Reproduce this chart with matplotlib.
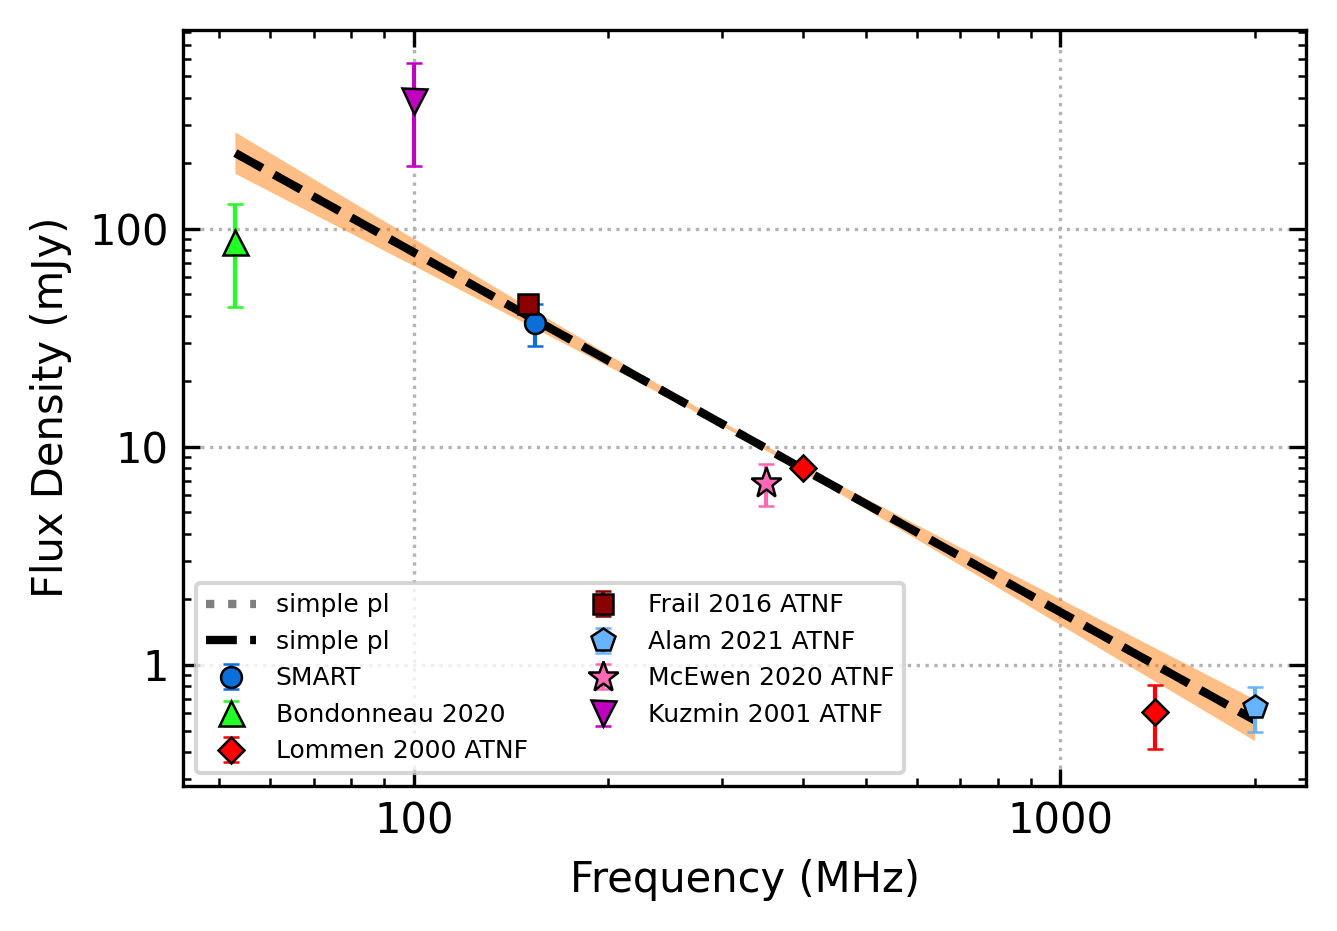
import numpy as np
import matplotlib
matplotlib.use("Agg")
import matplotlib.pyplot as plt
from matplotlib.ticker import ScalarFormatter, NullFormatter

# measured flux densities (MHz, mJy, mJy)
smart_freq = [154]
smart_flux = [37.0]
smart_err = [8.0]

bond_freq = [53]
bond_flux = [87.0]
bond_err = [43.0]

lommen_freq = [400, 1400]
lommen_flux = [8.0, 0.61]
lommen_err = [0.4, 0.2]

frail_freq = [150]
frail_flux = [45.0]
frail_err = [2.5]

alam_freq = [2000]
alam_flux = [0.64]
alam_err = [0.15]

mcewen_freq = [350]
mcewen_flux = [6.85]
mcewen_err = [1.5]

kuzmin_freq = [100]
kuzmin_flux = [385.0]
kuzmin_err = [190.0]

# simple power law fit parameters
fit_c = 11.1       # mJy at fit_v0
fit_v0 = 326.0     # MHz
fit_a = -1.65
fit_a_err = 0.12
fit_c_err = 0.25

datasets = [
    ("SMART", smart_freq, smart_flux, smart_err, "o", "#0a6fd8", 5),
    ("Bondonneau 2020", bond_freq, bond_flux, bond_err, "^", "#22ff22", 6),
    ("Lommen 2000 ATNF", lommen_freq, lommen_flux, lommen_err, "D", "red", 4.5),
    ("Frail 2016 ATNF", frail_freq, frail_flux, frail_err, "s", "darkred", 5),
    ("Alam 2021 ATNF", alam_freq, alam_flux, alam_err, "p", "#66b3ff", 6),
    ("McEwen 2020 ATNF", mcewen_freq, mcewen_flux, mcewen_err, "*", "hotpink", 7.5),
    ("Kuzmin 2001 ATNF", kuzmin_freq, kuzmin_flux, kuzmin_err, "v", "m", 6),
]

fig = plt.figure(figsize=(1337 / 300, 931 / 300), dpi=300)
ax = fig.add_axes([0.137, 0.156, 0.840, 0.812])

all_freq = sum([d[1] for d in datasets], [])
fit_x = np.logspace(np.log10(min(all_freq)), np.log10(max(all_freq)), 200)
fit_y = fit_c * (fit_x / fit_v0) ** fit_a
rel = np.sqrt((fit_c_err / fit_c) ** 2 + (fit_a_err * np.log(fit_x / fit_v0)) ** 2)
ax.fill_between(fit_x, fit_y * np.exp(-rel), fit_y * np.exp(rel),
                facecolor="C1", alpha=0.5, lw=0, zorder=1)
h1, = ax.plot(fit_x, fit_y, ":", color="k", alpha=0.5, lw=2, label="simple pl", zorder=2)
h2, = ax.plot(fit_x, fit_y, "--", color="k", lw=2, label="simple pl", zorder=3)

handles = [h1, h2]
for label, f, s, e, m, c, ms in datasets:
    eb = ax.errorbar(f, s, yerr=e, fmt=m, color=c, ecolor=c, mec="k", mew=0.6,
                     ms=ms, elinewidth=1, capsize=2, capthick=1, label=label, zorder=4)
    handles.append(eb)

ax.set_xscale("log")
ax.set_yscale("log")
ax.set_xlim(44, 2400)
ax.set_ylim(0.279, 818)

for axis in (ax.xaxis, ax.yaxis):
    fmt = ScalarFormatter()
    fmt.set_scientific(False)
    axis.set_major_formatter(fmt)
    axis.set_minor_formatter(NullFormatter())

ax.tick_params(which="both", direction="in", top=True, right=True, labelsize=10)
ax.tick_params(which="major", length=4, width=0.8)
ax.tick_params(which="minor", length=2, width=0.6)
ax.grid(True, which="major", linestyle=":", color="0.7", lw=0.8)
ax.set_axisbelow(True)

ax.set_xlabel("Frequency (MHz)", fontsize=10)
ax.set_ylabel("Flux Density (mJy)", fontsize=10)

ax.legend(handles=handles, loc="lower left", ncol=2, fontsize=6, framealpha=0.8,
          columnspacing=2, handlelength=2)

fig.savefig("out.png", dpi=300)
